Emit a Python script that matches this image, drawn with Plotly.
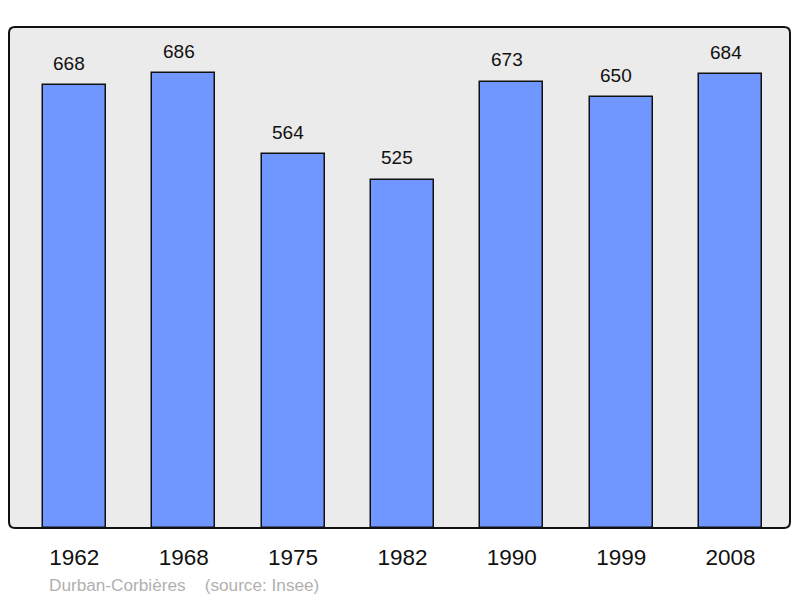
import plotly.graph_objects as go

years = ["1962", "1968", "1975", "1982", "1990", "1999", "2008"]
population = [668, 686, 564, 525, 673, 650, 684]
footer = "Durban-Corbières    (source: Insee)"

W, H = 800, 598
L, R, T, B = 9, 10, 27, 70
pw, ph = W - L - R, H - T - B
FONT = "Liberation Sans, Arial, sans-serif"

fig = go.Figure()
fig.add_trace(go.Bar(
    x=years, y=population, width=0.575,
    marker=dict(color="#7097ff", line=dict(color="#111111", width=1.5)),
    hoverinfo="skip",
))

for i, v in enumerate(population):
    fig.add_annotation(x=i, y=v, text=str(v), showarrow=False, yanchor="middle",
                       yshift=22, xshift=-5, font=dict(size=19, color="#111111", family=FONT))

fig.add_annotation(xref="paper", yref="paper", x=(47 - L) / pw, y=-(585 - 528) / ph,
                   xanchor="left", yanchor="middle", text=footer, showarrow=False,
                   font=dict(size=17.2, color="#b0b0b0", family=FONT))

# rounded frame
rx, ry = 6 / pw, 6 / ph
path = (f"M {rx},0 L {1-rx},0 Q 1,0 1,{ry} L 1,{1-ry} Q 1,1 {1-rx},1 "
        f"L {rx},1 Q 0,1 0,{1-ry} L 0,{ry} Q 0,0 {rx},0 Z")
fig.add_shape(type="path", xref="paper", yref="paper", path=path,
              line=dict(color="#111111", width=2), layer="above")

fig.update_layout(
    width=W, height=H,
    margin=dict(l=L, r=R, t=T, b=B),
    paper_bgcolor="white", plot_bgcolor="#ebebeb",
    showlegend=False,
    xaxis=dict(type="category", range=[-0.597, 6.543], showgrid=False, zeroline=False,
               ticks="", ticklabelstandoff=13,
               tickfont=dict(size=22.5, color="#111111", family=FONT)),
    yaxis=dict(range=[0, 755.6], visible=False),
    bargap=0,
)
fig.write_html("out.html", config={"displayModeBar": False},
               post_script="document.body.style.margin='0';document.body.style.padding='0';")
